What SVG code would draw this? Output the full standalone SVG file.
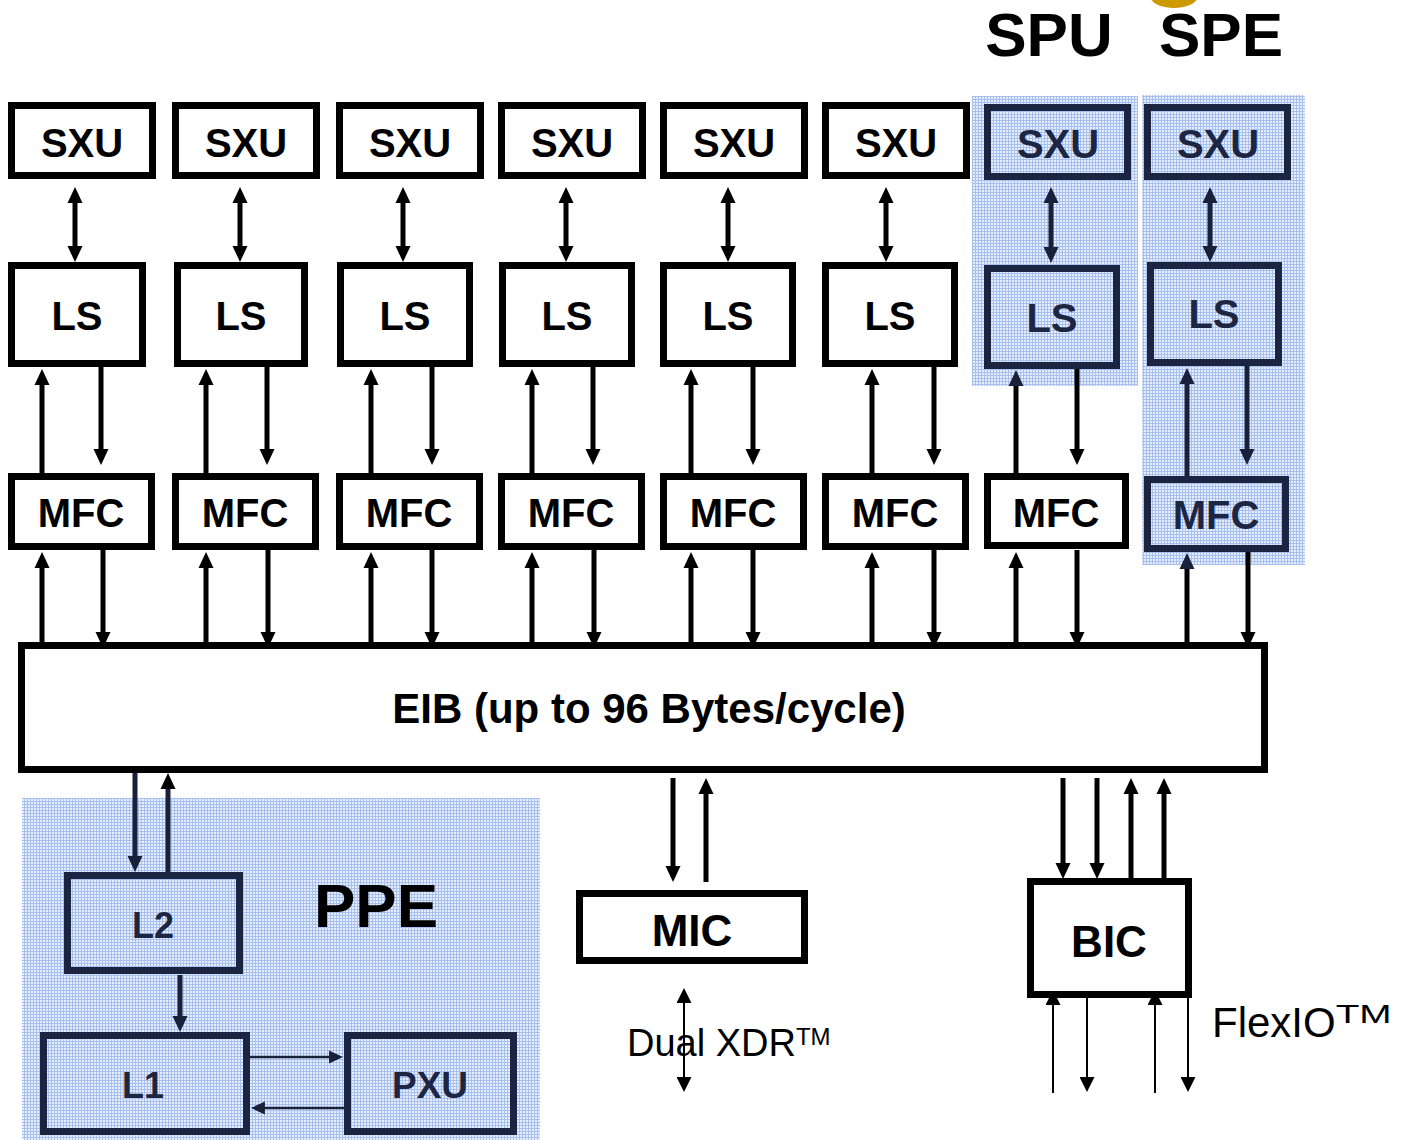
<svg xmlns="http://www.w3.org/2000/svg" width="1401" height="1140" viewBox="0 0 1401 1140">
<style>
.bg{fill:#fff}
.box{fill:#fff;stroke:#000;stroke-width:7}
.nbox{fill:none;stroke:#1b2441;stroke-width:7}
.t{font-family:"Liberation Sans",Arial,Helvetica,sans-serif;font-weight:bold;text-anchor:middle;fill:#000}
.n{fill:#1c2642}
.s40{font-size:40px}
.s36{font-size:36px}
.s44{font-size:44px}
.big{font-size:62px}
.reg{font-family:"Liberation Sans",Arial,Helvetica,sans-serif;fill:#000}
.a{stroke:#000;stroke-width:5;fill:none}
.an{stroke:#18203a;stroke-width:5;fill:none}
.th{stroke:#000;stroke-width:2;fill:none}
.thn{stroke:#18203a;stroke-width:2.5;fill:none}
</style>
<defs>
<pattern id="hatch" patternUnits="userSpaceOnUse" width="3" height="3">
<rect width="3" height="3" fill="#e6eefc"/>
<rect width="3" height="1" fill="#a8c0f0"/>
<rect width="1" height="3" fill="#a8c0f0"/>
</pattern>
<marker id="h" viewBox="0 0 16 16" refX="1" refY="8" markerWidth="16" markerHeight="16" markerUnits="userSpaceOnUse" orient="auto-start-reverse">
<path d="M0,0.5 L16,8 L0,15.5 z" fill="#000"/>
</marker>
<marker id="hn" viewBox="0 0 16 16" refX="1" refY="8" markerWidth="16" markerHeight="16" markerUnits="userSpaceOnUse" orient="auto-start-reverse">
<path d="M0,0.5 L16,8 L0,15.5 z" fill="#18203a"/>
</marker>
<marker id="ht" viewBox="0 0 15 15" refX="1" refY="7.5" markerWidth="15" markerHeight="15" markerUnits="userSpaceOnUse" orient="auto-start-reverse">
<path d="M0,0 L15,7.5 L0,15 z" fill="#000"/>
</marker>
<marker id="htn" viewBox="0 0 15 15" refX="1" refY="7.5" markerWidth="14" markerHeight="14" markerUnits="userSpaceOnUse" orient="auto-start-reverse">
<path d="M0,0.5 L15,7.5 L0,14.5 z" fill="#18203a"/>
</marker>
</defs>
<rect class="bg" x="0" y="0" width="1401" height="1140"/>
<ellipse cx="1174" cy="-4" rx="24" ry="12" fill="#cc9900"/>

<g id="regions">
<rect id="spu-region" x="972" y="96" width="166" height="290" fill="url(#hatch)"/>
<rect id="spe-region" x="1142" y="95" width="163" height="470" fill="url(#hatch)"/>
<rect id="ppe-region" x="22" y="798" width="518" height="342" fill="url(#hatch)"/>
</g>

<g id="labels">
<text class="t big" x="1049" y="56">SPU</text>
<text class="t big" x="1221" y="56">SPE</text>
<text class="t big" x="376" y="927">PPE</text>
</g>

<g id="connectors">
<!-- SXU-LS double arrows -->
<path class="a" d="M75,202 V247" marker-start="url(#h)" marker-end="url(#h)"/>
<path class="a" d="M240,202 V247" marker-start="url(#h)" marker-end="url(#h)"/>
<path class="a" d="M403,202 V247" marker-start="url(#h)" marker-end="url(#h)"/>
<path class="a" d="M566,202 V247" marker-start="url(#h)" marker-end="url(#h)"/>
<path class="a" d="M728,202 V247" marker-start="url(#h)" marker-end="url(#h)"/>
<path class="a" d="M886,202 V247" marker-start="url(#h)" marker-end="url(#h)"/>
<path class="an" d="M1051,202 V248" marker-start="url(#hn)" marker-end="url(#hn)"/>
<path class="an" d="M1210,202 V247" marker-start="url(#hn)" marker-end="url(#hn)"/>
<!-- MFC -> LS (up) -->
<path class="a" d="M42,473 V384" marker-end="url(#h)"/>
<path class="a" d="M206,473 V384" marker-end="url(#h)"/>
<path class="a" d="M371,473 V384" marker-end="url(#h)"/>
<path class="a" d="M532,473 V384" marker-end="url(#h)"/>
<path class="a" d="M691,473 V384" marker-end="url(#h)"/>
<path class="a" d="M872,473 V384" marker-end="url(#h)"/>
<path class="a" d="M1016,473 V385" marker-end="url(#hn)"/>
<path class="an" d="M1187,476 V383" marker-end="url(#hn)"/>
<!-- LS -> MFC (down) -->
<path class="a" d="M101,367 V450" marker-end="url(#h)"/>
<path class="a" d="M267,367 V450" marker-end="url(#h)"/>
<path class="a" d="M432,367 V450" marker-end="url(#h)"/>
<path class="a" d="M593,367 V450" marker-end="url(#h)"/>
<path class="a" d="M753,367 V450" marker-end="url(#h)"/>
<path class="a" d="M934,367 V450" marker-end="url(#h)"/>
<path class="a" d="M1077,369 V450" marker-end="url(#h)"/>
<path class="an" d="M1247,366 V450" marker-end="url(#hn)"/>
<!-- EIB -> MFC (up) -->
<path class="a" d="M42,653 V567" marker-end="url(#h)"/>
<path class="a" d="M206,653 V567" marker-end="url(#h)"/>
<path class="a" d="M371,653 V567" marker-end="url(#h)"/>
<path class="a" d="M532,653 V567" marker-end="url(#h)"/>
<path class="a" d="M691,653 V567" marker-end="url(#h)"/>
<path class="a" d="M872,653 V567" marker-end="url(#h)"/>
<path class="a" d="M1016,653 V567" marker-end="url(#h)"/>
<path class="a" d="M1187,653 V568" marker-end="url(#hn)"/>
<!-- MFC -> EIB (down) -->
<path class="a" d="M103,550 V633" marker-end="url(#h)"/>
<path class="a" d="M268,550 V633" marker-end="url(#h)"/>
<path class="a" d="M432,550 V633" marker-end="url(#h)"/>
<path class="a" d="M594,550 V633" marker-end="url(#h)"/>
<path class="a" d="M753,550 V633" marker-end="url(#h)"/>
<path class="a" d="M934,550 V633" marker-end="url(#h)"/>
<path class="a" d="M1077,550 V633" marker-end="url(#h)"/>
<path class="a" d="M1248,552 V633" marker-end="url(#h)"/>
<!-- EIB <-> L2 -->
<path class="an" d="M135,772 V857" marker-end="url(#hn)"/>
<path class="an" d="M168,872 V788" marker-end="url(#h)"/>
<!-- L2 -> L1 -->
<path class="an" d="M180,975 V1017" marker-end="url(#hn)"/>
<!-- L1 <-> PXU -->
<path class="thn" d="M250,1057 H330" marker-end="url(#htn)"/>
<path class="thn" d="M344,1108 H264" marker-end="url(#htn)"/>
<!-- EIB <-> MIC -->
<path class="a" d="M673,778 V867" marker-end="url(#h)"/>
<path class="a" d="M706,882 V793" marker-end="url(#h)"/>
<!-- Dual XDR -->
<path class="th" d="M684,1002 V1078" marker-start="url(#ht)" marker-end="url(#ht)"/>
<!-- EIB <-> BIC -->
<path class="a" d="M1063,778 V864" marker-end="url(#h)"/>
<path class="a" d="M1097,778 V864" marker-end="url(#h)"/>
<path class="a" d="M1131,880 V793" marker-end="url(#h)"/>
<path class="a" d="M1164,880 V793" marker-end="url(#h)"/>
<!-- FlexIO -->
<path class="th" d="M1053,1093 V1004" marker-end="url(#ht)"/>
<path class="th" d="M1087,990 V1078" marker-end="url(#ht)"/>
<path class="th" d="M1155,1093 V1004" marker-end="url(#ht)"/>
<path class="th" d="M1188,998 V1078" marker-end="url(#ht)"/>
</g>

<g id="sxu1"><rect class="box" x="11.5" y="105.5" width="141" height="70"/><text class="t s40" x="82" y="157">SXU</text></g>
<g id="sxu2"><rect class="box" x="175.5" y="105.5" width="141" height="70"/><text class="t s40" x="246" y="157">SXU</text></g>
<g id="sxu3"><rect class="box" x="339.5" y="105.5" width="141" height="70"/><text class="t s40" x="410" y="157">SXU</text></g>
<g id="sxu4"><rect class="box" x="501.5" y="105.5" width="141" height="70"/><text class="t s40" x="572" y="157">SXU</text></g>
<g id="sxu5"><rect class="box" x="663.5" y="105.5" width="141" height="70"/><text class="t s40" x="734" y="157">SXU</text></g>
<g id="sxu6"><rect class="box" x="825.5" y="105.5" width="141" height="70"/><text class="t s40" x="896" y="157">SXU</text></g>
<g id="sxu7"><rect class="nbox" x="987.5" y="107.5" width="140" height="69"/><text class="t s40 n" x="1058" y="158">SXU</text></g>
<g id="sxu8"><rect class="nbox" x="1147.5" y="107.5" width="140" height="69"/><text class="t s40 n" x="1218" y="158">SXU</text></g>

<g id="ls1"><rect class="box" x="11.5" y="265.5" width="131" height="98"/><text class="t s40" x="77" y="330">LS</text></g>
<g id="ls2"><rect class="box" x="177.5" y="265.5" width="127" height="98"/><text class="t s40" x="241" y="330">LS</text></g>
<g id="ls3"><rect class="box" x="340.5" y="265.5" width="129" height="98"/><text class="t s40" x="405" y="330">LS</text></g>
<g id="ls4"><rect class="box" x="502.5" y="265.5" width="129" height="98"/><text class="t s40" x="567" y="330">LS</text></g>
<g id="ls5"><rect class="box" x="663.5" y="265.5" width="129" height="98"/><text class="t s40" x="728" y="330">LS</text></g>
<g id="ls6"><rect class="box" x="825.5" y="265.5" width="129" height="98"/><text class="t s40" x="890" y="330">LS</text></g>
<g id="ls7"><rect class="nbox" x="987.5" y="268.5" width="129" height="97"/><text class="t s40 n" x="1052" y="332">LS</text></g>
<g id="ls8"><rect class="nbox" x="1150.5" y="265.5" width="128" height="97"/><text class="t s40 n" x="1214" y="328">LS</text></g>

<g id="mfc1"><rect class="box" x="11.5" y="476.5" width="140" height="70"/><text class="t s40" x="81" y="527">MFC</text></g>
<g id="mfc2"><rect class="box" x="175.5" y="476.5" width="140" height="70"/><text class="t s40" x="245" y="527">MFC</text></g>
<g id="mfc3"><rect class="box" x="339.5" y="476.5" width="140" height="70"/><text class="t s40" x="409" y="527">MFC</text></g>
<g id="mfc4"><rect class="box" x="501.5" y="476.5" width="140" height="70"/><text class="t s40" x="571" y="527">MFC</text></g>
<g id="mfc5"><rect class="box" x="663.5" y="476.5" width="140" height="70"/><text class="t s40" x="733" y="527">MFC</text></g>
<g id="mfc6"><rect class="box" x="825.5" y="476.5" width="140" height="70"/><text class="t s40" x="895" y="527">MFC</text></g>
<g id="mfc7"><rect class="box" x="987.5" y="476.5" width="138" height="69"/><text class="t s40" x="1056" y="527">MFC</text></g>
<g id="mfc8"><rect class="nbox" x="1147.5" y="479.5" width="138" height="69"/><text class="t s40 n" x="1216" y="529">MFC</text></g>

<g id="eib"><rect class="box" x="21.5" y="645.5" width="1243" height="124"/><text class="t" style="font-size:42px" x="649" y="723">EIB (up to 96 Bytes/cycle)</text></g>

<g id="l2"><rect class="nbox" x="67.5" y="875.5" width="172" height="95"/><text class="t s36 n" x="153" y="938">L2</text></g>
<g id="l1"><rect class="nbox" x="43.5" y="1035.5" width="203" height="96"/><text class="t s36 n" x="143" y="1098">L1</text></g>
<g id="pxu"><rect class="nbox" x="347.5" y="1035.5" width="166" height="96"/><text class="t n" style="font-size:37px" x="430" y="1098">PXU</text></g>

<g id="mic"><rect class="box" x="579.5" y="893.5" width="225" height="67"/><text class="t s44" x="692" y="946">MIC</text></g>
<g id="bic"><rect class="box" x="1030.5" y="881.5" width="158" height="113"/><text class="t s44" x="1109" y="957">BIC</text></g>

<g id="io-labels">
<text class="reg" style="font-size:38px" x="627" y="1056">Dual XDR<tspan style="font-size:24px" dy="-11">TM</tspan></text>
<text class="reg" style="font-size:42px" x="1212" y="1037">FlexIO<tspan style="font-size:25px" dy="-14" textLength="56" lengthAdjust="spacingAndGlyphs">TM</tspan></text>
</g>
</svg>
